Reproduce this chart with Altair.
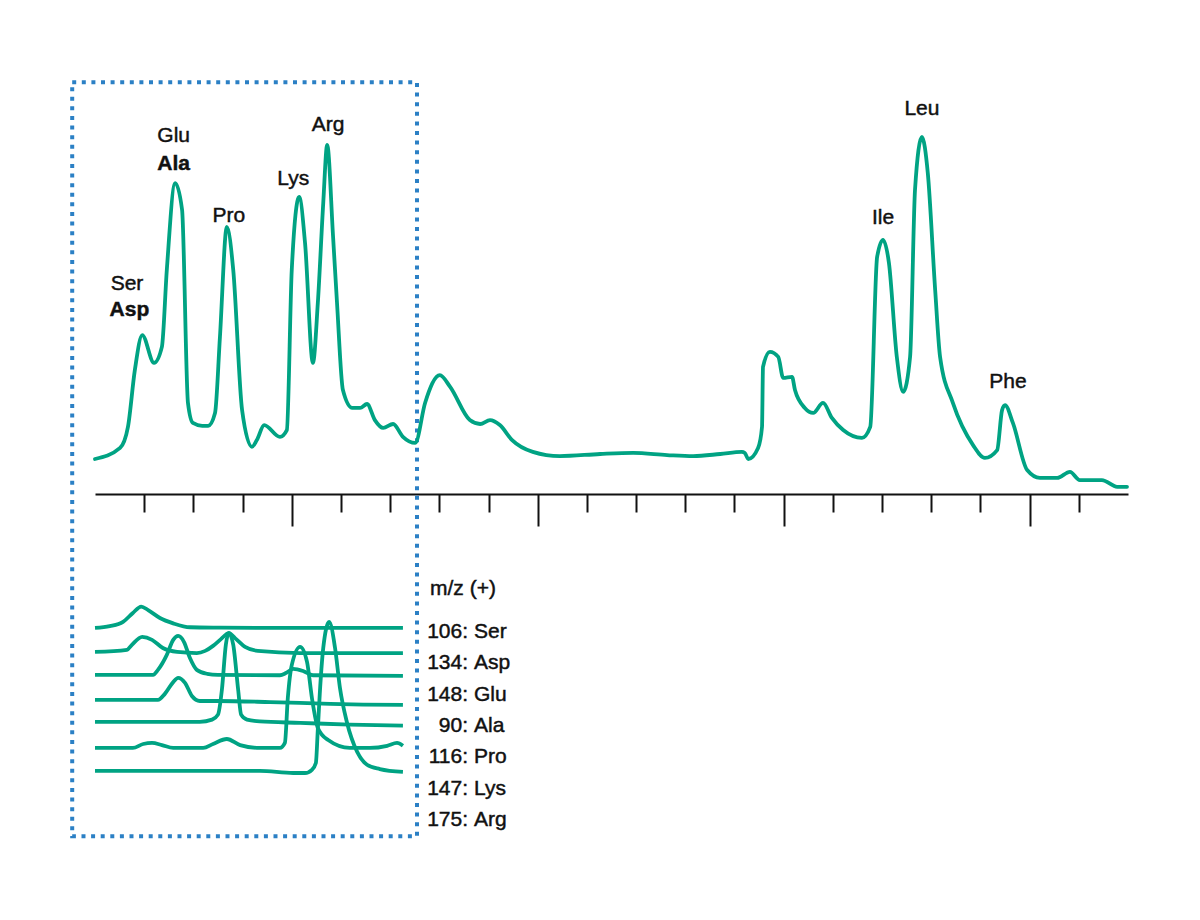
import altair as alt
import pandas as pd

# ---------------- data ----------------
# main chromatogram (time in min, intensity in % of Leu peak)
main_t = [1.00,1.51,1.67,1.81,1.96,2.20,2.36,2.46,2.63,2.77,2.89,2.99,3.18,3.30,3.44,3.54,3.68,3.81,3.99,4.19,
          4.29,4.44,4.76,4.90,5.00,5.15,5.27,5.43,5.53,5.64,5.72,5.84,5.92,6.04,6.23,6.39,6.53,6.69,6.86,7.06,
          7.26,7.51,7.71,8.01,8.22,8.62,8.83,9.03,9.23,9.48,9.90,10.45,11.27,11.94,12.63,13.16,13.71,14.15,14.21,14.28,
          14.48,14.56,14.58,14.72,14.89,14.99,15.17,15.23,15.43,15.60,15.80,15.98,16.21,16.59,16.76,16.90,17.02,17.14,17.30,17.43,
          17.57,17.67,17.81,17.93,18.08,18.18,18.44,18.85,19.09,19.34,19.44,19.50,19.66,19.95,20.21,20.56,20.82,21.02,21.47,21.78,
          21.98]
main_i = [9.8,12.9,18.8,34.7,44.5,36.7,41.2,62.8,87.1,79.6,25.5,19.9,19.1,19.1,22.7,44.0,74.8,62.8,23.5,13.2,
          15.1,19.3,16.0,17.9,62.8,83.2,70.3,36.7,53.5,81.5,97.8,72.0,53.5,29.1,24.1,24.1,25.2,20.7,18.5,19.6,
          16.0,14.3,25.5,33.3,30.0,20.7,19.6,20.7,19.3,15.1,11.8,10.6,11.2,11.5,10.9,10.6,11.2,11.8,11.5,9.8,
          12.9,18.8,35.6,39.8,38.4,32.5,32.8,29.1,24.1,22.7,25.5,21.3,17.9,15.7,18.8,66.4,71.2,64.7,38.4,28.6,
          38.4,85.2,100.0,89.9,57.1,38.4,25.5,13.7,10.1,12.3,23.5,24.9,19.9,6.7,4.5,4.5,6.2,3.9,3.9,2.0,
          2.0]

# extracted ion chromatograms (inset), heights above each trace's baseline
ser_t = [1.00,1.30,1.57,1.77,1.94,2.08,2.32,2.59,2.93,3.54,5.17,7.26]
ser_h = [0.0,0.5,1.7,4.2,6.0,5.0,2.8,1.3,0.2,0.1,0.0,0.0]

asp_t = [1.00,1.65,1.75,1.96,2.16,2.38,2.67,3.07,3.24,3.40,3.56,3.72,3.87,4.05,4.31,5.17,7.26]
asp_h = [0.0,0.6,2.0,4.2,3.4,1.1,0.0,-0.3,0.3,1.7,3.6,5.3,3.6,1.4,0.3,-0.3,-0.3]

glu_t = [1.00,2.18,2.28,2.46,2.59,2.69,2.81,2.93,3.07,3.28,3.50,4.76,4.88,5.03,5.23,5.43,7.26]
glu_h = [0.3,0.3,1.7,5.9,10.1,11.2,9.5,5.0,1.7,0.6,0.3,0.2,0.8,2.0,1.4,0.2,0.0]

ala_t = [1.00,2.28,2.42,2.59,2.69,2.83,2.97,3.13,3.50,4.56,5.78,6.45,7.26]
ala_h = [0.0,0.0,1.7,5.0,6.2,4.8,1.1,-0.3,-0.3,-0.6,-1.1,-1.3,-1.4]

pro_t = [1.00,3.13,3.38,3.50,3.58,3.66,3.72,3.81,3.91,3.97,4.09,4.35,5.17,6.18,7.26]
pro_h = [0.6,0.6,1.2,2.6,9.6,22.2,25.5,22.2,9.6,2.6,1.2,0.7,0.3,-0.2,-0.5]

lys_t = [1.00,1.77,1.98,2.16,2.36,2.59,3.20,3.40,3.68,3.95,4.35,4.76,4.86,4.92,5.00,5.17,5.31,5.41,5.53,5.74,
         6.18,6.59,6.94,7.14,7.26]
lys_h = [0.0,0.0,1.1,1.4,0.8,0.0,0.0,1.1,2.5,0.8,0.0,0.0,1.4,14.0,23.2,28.3,24.1,14.0,5.6,2.2,
         0.0,0.0,0.6,1.4,0.6]

arg_t = [1.00,4.35,5.03,5.27,5.41,5.49,5.53,5.57,5.64,5.76,5.88,5.98,6.12,6.33,6.53,6.79,7.26]
arg_h = [0.3,0.3,-0.3,-0.3,0.6,2.5,12.0,22.0,34.7,42.0,34.7,23.5,14.0,5.6,2.0,0.8,0.0]

inset_t = [ser_t, asp_t, glu_t, ala_t, pro_t, lys_t, arg_t]
inset_h = [ser_h, asp_h, glu_h, ala_h, pro_h, lys_h, arg_h]

# labels
peak_text = ["Ser", "Asp", "Glu", "Ala", "Pro", "Lys", "Arg", "Ile", "Leu", "Phe"]
peak_bold = [False, True, False, True, False, False, False, False, False, False]
peak_t = [1.65, 1.70, 2.60, 2.60, 3.72, 5.03, 5.74, 17.02, 17.81, 19.56]
peak_i = [57.1, 49.9, 98.6, 90.8, 76.2, 86.6, 101.7, 75.6, 106.2, 29.7]

ion_mz = ["106:", "134:", "148:", "90:", "116:", "147:", "175:"]
ion_name = ["Ser", "Asp", "Glu", "Ala", "Pro", "Lys", "Arg"]
legend_title = "m/z (+)"

tick_values = list(range(2, 22))

# ---------------- styles ----------------
TEAL = "#00a383"
BLUE = "#2b80c5"
INK = "#111111"
FONT = "Liberation Sans"
FS = 21
TXT_STROKE = 0.45

x_scale = alt.Scale(domain=[1, 22], nice=False, zero=False)
y_scale = alt.Scale(domain=[-113.73, 136.13], nice=False, zero=False)

x_axis = alt.Axis(
    values=tick_values, labels=False, title=None, grid=False,
    domainColor=INK, domainWidth=2, tickColor=INK, tickWidth=2,
    tickSize={"condition": {"test": "datum.value % 5 === 0", "value": 32}, "value": 18},
    offset=-406,
)

def X(field):
    return alt.X(field, type="quantitative", scale=x_scale, axis=x_axis)

def Y(field):
    return alt.Y(field, type="quantitative", scale=y_scale, axis=None)

# ---------------- tables ----------------
main_df = pd.DataFrame({"t": main_t, "i": main_i})

rows = []
for k, (ts, hs) in enumerate(zip(inset_t, inset_h)):
    for t, h in zip(ts, hs):
        rows.append({"t": t, "h": h, "k": k})
inset_df = pd.DataFrame(rows)

peak_df = pd.DataFrame({"t": peak_t, "i": peak_i, "text": peak_text, "bold": peak_bold})
ion_df = pd.DataFrame({"k": list(range(len(ion_mz))), "mz": ion_mz, "name": ion_name})
box_df = pd.DataFrame({"t": [0.5365], "t2": [7.546], "i": [115.35], "i2": [-95.88]})
title_df = pd.DataFrame({"t": [7.81], "i": [-28.3], "text": [legend_title]})

# ---------------- layers ----------------
main_line = alt.Chart(main_df).mark_line(
    color=TEAL, strokeWidth=3.8, interpolate="monotone", strokeJoin="round", strokeCap="round"
).encode(x=X("t"), y=Y("i"))

inset_lines = alt.Chart(inset_df).transform_calculate(
    y="datum.h - 37.53 - 6.72 * datum.k"
).mark_line(
    color=TEAL, strokeWidth=3.8, interpolate="monotone", strokeJoin="round"
).encode(x=X("t"), y=Y("y"), detail="k:N")

box = alt.Chart(box_df).mark_rect(
    fill="transparent", stroke=BLUE, strokeWidth=4, strokeDash=[4, 5.6]
).encode(x=X("t"), x2="t2", y=Y("i"), y2="i2")

text_style = dict(font=FONT, fontSize=FS, color=INK, stroke=INK, strokeWidth=TXT_STROKE,
                  baseline="alphabetic")

peak_reg = alt.Chart(peak_df).transform_filter("!datum.bold").mark_text(
    align="center", **text_style
).encode(x=X("t"), y=Y("i"), text="text:N")

peak_b = alt.Chart(peak_df).transform_filter("datum.bold").mark_text(
    align="center", fontWeight="bold", **text_style
).encode(x=X("t"), y=Y("i"), text="text:N")

ion_num = alt.Chart(ion_df).transform_calculate(
    y="-40.34 - 8.77 * datum.k", t="8.644"
).mark_text(
    align="right", dx=-3, **text_style
).encode(x=X("t"), y=Y("y"), text="mz:N")

ion_lab = alt.Chart(ion_df).transform_calculate(
    y="-40.34 - 8.77 * datum.k", t="8.644"
).mark_text(
    align="left", dx=3, **text_style
).encode(x=X("t"), y=Y("y"), text="name:N")

title_txt = alt.Chart(title_df).mark_text(
    align="left", **text_style
).encode(x=X("t"), y=Y("i"), text="text:N")

chart = alt.layer(
    box, main_line, inset_lines, peak_reg, peak_b, ion_num, ion_lab, title_txt
).properties(
    width=1033, height=892,
    padding={"left": 87, "top": 0, "right": 60, "bottom": 8},
    autosize=alt.AutoSizeParams(type="none"),
    background="white",
).configure_view(strokeWidth=0)

chart.save("out.html", embed_options={"renderer": "svg", "actions": False})
